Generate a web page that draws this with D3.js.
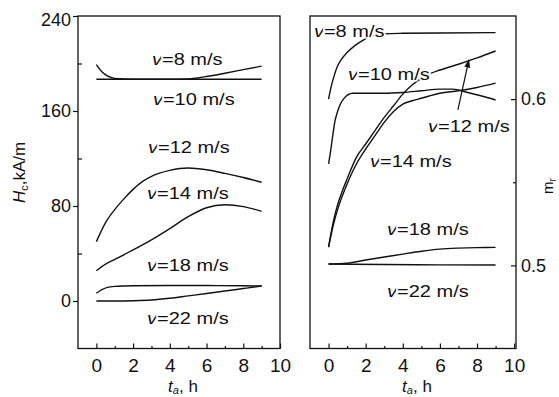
<!DOCTYPE html>
<html>
<head>
<meta charset="utf-8">
<script src="https://cdn.jsdelivr.net/npm/d3@7"></script>
<style>
  body { margin: 0; background: #fff; }
  svg { display: block; font-family: "Liberation Sans", Arial, sans-serif; }
</style>
</head>
<body>
<svg id="chart" width="559" height="397"></svg>
<script>
// ---- left panel: coercivity Hc (kA/m) vs annealing time ----
const hcT8 = [0, 0.3, 0.6, 1, 2, 3, 4, 5, 5.5, 6, 7, 8, 9]
const hcV8 = [199, 193, 189.5, 187.5, 186.8, 186.7, 186.7, 186.9, 187.8, 189, 191.8, 194.8, 197.8]
const hcT10 = [0, 3, 6, 9]
const hcV10 = [186.7, 186.7, 186.7, 186.7]
const hcT12 = [0, 0.5, 1, 1.5, 2, 2.5, 3, 4, 5, 6, 7, 8, 9]
const hcV12 = [50, 66, 77, 86, 94, 100.5, 105, 110, 112, 110.5, 107.5, 104, 100]
const hcT14 = [0, 0.5, 1, 2, 3, 4, 5, 6, 7, 8, 9]
const hcV14 = [25.5, 31, 35, 43, 51.5, 61, 71, 78.5, 81, 79.5, 75.5]
const hcT18 = [0, 0.3, 0.6, 1, 2, 4, 6, 8, 9]
const hcV18 = [6.5, 9.5, 11.5, 12.3, 12.8, 13, 13, 12.8, 12.6]
const hcT22 = [0, 1, 2, 3, 4, 5, 6, 7, 8, 9]
const hcV22 = [0, 0, 0.2, 0.8, 2.3, 4.3, 6.3, 8.4, 10.5, 12.6]

// ---- right panel: remanence ratio mr vs annealing time ----
const mrT8 = [0, 0.15, 0.3, 0.45, 0.7, 1, 1.4, 1.8, 2.3, 3, 4, 6, 9]
const mrV8 = [0.600, 0.608, 0.614, 0.619, 0.624, 0.628, 0.632, 0.635, 0.638, 0.6393, 0.6396, 0.6398, 0.640]
const mrT10 = [0, 0.1, 0.2, 0.35, 0.5, 0.8, 1.3, 2, 3, 4, 5, 6, 6.7, 7.5, 8.2, 9]
const mrV10 = [0.561, 0.568, 0.576, 0.587, 0.593, 0.600, 0.6035, 0.6035, 0.6035, 0.604, 0.605, 0.606, 0.606, 0.604, 0.602, 0.5995]
const mrT12 = [0, 0.25, 0.5, 0.75, 1, 1.5, 2, 2.5, 3, 3.5, 4, 4.5, 5, 5.5, 6, 7, 8, 9]
const mrV12 = [0.511, 0.526, 0.537, 0.545, 0.552, 0.565, 0.573, 0.581, 0.589, 0.596, 0.603, 0.6085, 0.6125, 0.6155, 0.6175, 0.621, 0.6248, 0.629]
const mrT14 = [0, 0.25, 0.5, 0.75, 1, 1.5, 2, 2.5, 3, 3.5, 4, 4.5, 5, 6, 7, 8, 9]
const mrV14 = [0.511, 0.524, 0.534, 0.542, 0.549, 0.561, 0.570, 0.578, 0.586, 0.5925, 0.597, 0.599, 0.6005, 0.6035, 0.605, 0.607, 0.6096]
const mrT18 = [0, 1, 2, 3, 4, 5, 6, 7, 8, 9]
const mrV18 = [0.5008, 0.5013, 0.5032, 0.505, 0.5068, 0.5085, 0.5098, 0.5104, 0.5107, 0.5108]
const mrT22 = [0, 3, 6, 9]
const mrV22 = [0.5008, 0.5005, 0.5003, 0.5002]

const speedLabels = ["=8 m/s", "=10 m/s", "=12 m/s", "=14 m/s", "=18 m/s", "=22 m/s"]
const xTicks = [0, 2, 4, 6, 8, 10]
const xMinor = [1, 3, 5, 7, 9]
const hcTicks = [0, 80, 160, 240]
const hcMinor = [40, 120, 200]
const mrTicks = [0.5, 0.6]
const mrMinor = [0.55]

// label anchors, in data units of each panel
const hcLabelPos = [[3.03, 198.7], [3.08, 165], [2.81, 124.6], [2.76, 85.9], [2.76, 25.3], [2.76, -19.4]]
const mrLabelPos = [[-0.79, 0.6374], [1.05, 0.6113], [5.36, 0.5803], [2.23, 0.5593], [3.15, 0.5185], [3.15, 0.4812]]

const svg = d3.select("#chart")
const frameTop = 16, frameBottom = 348.5

const zip = (ts, vs) => ts.map((t, i) => [t, vs[i]])

const panels = [
  {
    x: d3.scaleLinear().domain([-1, 10]).range([78, 280]),
    y: d3.scaleLinear().domain([-40, 240]).range([frameBottom, frameTop]),
    series: [zip(hcT8, hcV8), zip(hcT10, hcV10), zip(hcT12, hcV12), zip(hcT14, hcV14), zip(hcT18, hcV18), zip(hcT22, hcV22)],
    labels: hcLabelPos
  },
  {
    x: d3.scaleLinear().domain([-1, 10.1]).range([310, 516]),
    y: d3.scaleLinear().domain([0.45, 0.65]).range([frameBottom, frameTop]),
    series: [zip(mrT8, mrV8), zip(mrT10, mrV10), zip(mrT12, mrV12), zip(mrT14, mrV14), zip(mrT18, mrV18), zip(mrT22, mrV22)],
    labels: mrLabelPos
  }
]

// arrow head for the v=12 pointer
svg.append("defs").append("marker")
  .attr("id", "arrow").attr("viewBox", "0 0 10 10")
  .attr("refX", 9).attr("refY", 5)
  .attr("markerWidth", 7).attr("markerHeight", 7)
  .attr("orient", "auto")
  .append("path").attr("d", "M0,1.5L10,5L0,8.5z").attr("fill", "#111")

panels.forEach((p, pi) => {
  const g = svg.append("g")
  const [x0, x1] = p.x.range()

  // bottom axis, ticks pointing in
  const gx = g.append("g").attr("transform", `translate(0,${frameBottom})`)
    .call(d3.axisBottom(p.x).tickValues(xTicks).tickSize(-5).tickPadding(10).tickFormat(d3.format("d")))
  gx.append("g").call(d3.axisBottom(p.x).tickValues(xMinor).tickSize(-2.5).tickFormat(""))
  gx.selectAll(".domain").remove()
  gx.selectAll("text").attr("font-size", 19).attr("font-family", null).attr("fill", "#111")
  gx.selectAll("line").attr("stroke", "#111").attr("stroke-width", 1.2)

  // x title
  const xt = g.append("text")
    .attr("x", (x0 + x1) / 2 + 4).attr("y", 392)
    .attr("text-anchor", "middle").attr("font-size", 17).attr("fill", "#111")
  xt.append("tspan").attr("font-style", "italic").text("t")
  xt.append("tspan").attr("font-style", "italic").attr("font-size", 11).attr("dy", 2).text("a")
  xt.append("tspan").attr("dy", -2).text(", h")

  if (pi === 0) {
    const gy = g.append("g").attr("transform", `translate(${x0},0)`)
      .call(d3.axisLeft(p.y).tickValues(hcTicks).tickSize(5).tickPadding(2))
    gy.append("g").call(d3.axisLeft(p.y).tickValues(hcMinor).tickSize(-4).tickFormat(""))
    gy.selectAll(".domain").remove()
    gy.selectAll("text").attr("font-size", 18).attr("font-family", null).attr("fill", "#111")
      .filter(d => d === 240).attr("dy", "0.55em")
    gy.selectAll("line").attr("stroke", "#111").attr("stroke-width", 1.2)

    const yt = g.append("text")
      .attr("transform", "translate(25,203) rotate(-90)")
      .attr("font-size", 17).attr("fill", "#111")
    yt.append("tspan").attr("font-style", "italic").text("H")
    yt.append("tspan").attr("font-size", 11).attr("dy", 3).text("c")
    yt.append("tspan").attr("dy", -3).text(",kA/m")
  } else {
    const gy = g.append("g").attr("transform", `translate(${x1},0)`)
      .call(d3.axisRight(p.y).tickValues(mrTicks).tickSize(-5).tickPadding(5).tickFormat(d3.format(".1f")))
    gy.append("g").call(d3.axisRight(p.y).tickValues(mrMinor).tickSize(-3).tickFormat(""))
    gy.selectAll(".domain").remove()
    gy.selectAll("text").attr("font-size", 18).attr("font-family", null).attr("fill", "#111")
    gy.selectAll("line").attr("stroke", "#111").attr("stroke-width", 1.2)

    const yt = g.append("text")
      .attr("transform", "translate(553,194) rotate(-90)")
      .attr("font-size", 15).attr("fill", "#111")
    yt.append("tspan").text("m")
    yt.append("tspan").attr("font-size", 10).attr("dy", 3).text("r")
  }

  // frame
  g.append("rect")
    .attr("x", x0).attr("y", frameTop)
    .attr("width", x1 - x0).attr("height", frameBottom - frameTop)
    .attr("fill", "none").attr("stroke", "#111").attr("stroke-width", 1.3)

  const line = d3.line()
    .x(d => p.x(d[0]))
    .y(d => p.y(d[1]))
    .curve(d3.curveMonotoneX)

  g.selectAll(".curve").data(p.series).join("path")
    .attr("class", "curve")
    .attr("d", line)
    .attr("fill", "none").attr("stroke", "#111").attr("stroke-width", 1.4)

  // speed labels, white halo hides the curve running behind the text
  p.labels.forEach((pos, i) => {
    const t = g.append("text")
      .attr("transform", `translate(${p.x(pos[0])},${p.y(pos[1])}) scale(1.25,1)`)
      .attr("font-size", 16).attr("fill", "#111")
      .attr("stroke", "#fff").attr("stroke-width", 3).attr("paint-order", "stroke")
    t.append("tspan").attr("font-style", "italic").text("v")
    t.append("tspan").text(speedLabels[i])
  })

  if (pi === 1) {
    g.append("line")
      .attr("x1", p.x(6.97)).attr("y1", p.y(0.5935))
      .attr("x2", p.x(7.56)).attr("y2", p.y(0.6236))
      .attr("stroke", "#111").attr("stroke-width", 1.2)
      .attr("marker-end", "url(#arrow)")
  }
})
</script>
</body>
</html>
